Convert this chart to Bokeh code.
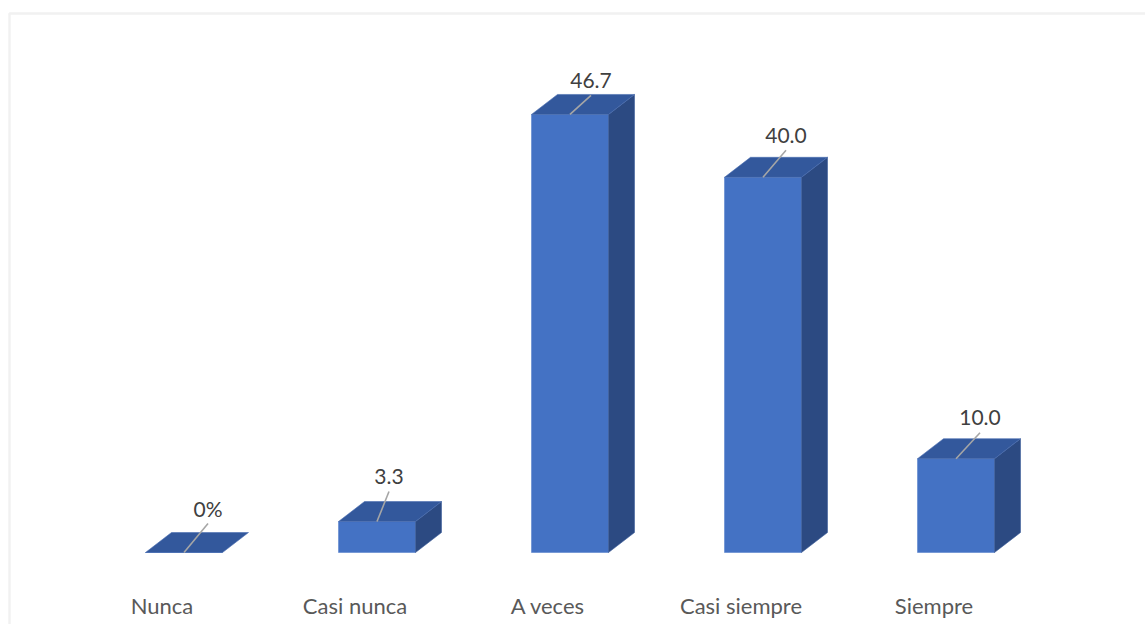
from bokeh.plotting import figure
from bokeh.models import Range1d, ColumnDataSource, BoxAnnotation
from bokeh.core.properties import value
from bokeh.embed import file_html
from bokeh.resources import INLINE

# ---- data ----
categories = ["Nunca", "Casi nunca", "A veces", "Casi siempre", "Siempre"]
values = [0.0, 3.3, 46.7, 40.0, 10.0]
value_labels = ["0%", "3.3", "46.7", "40.0", "10.0"]

# ---- layout / style ----
W, H = 1145, 624
PX_X = 193.0          # pixels per category step
PX_Y = 9.38           # pixels per value unit
X0_PX = 183.5         # pixel of first category centre
BASE_PX = 552.0       # pixel row of value 0

x_start = -X0_PX / PX_X
x_end = x_start + W / PX_X
y_end = BASE_PX / PX_Y
y_start = -(H - BASE_PX) / PX_Y

def px_x(d):
    return d / PX_X

def px_y(d):
    return d / PX_Y

half_w = px_x(38.5)
ddx = px_x(26)
ddy = px_y(20)

FRONT = "#4472C4"
TOP = "#33589C"
SIDE = "#2C4A82"

# leader line offsets (px) per bar
lead_dx = [24, 12, 21, 23, 24]
lead_dy = [29, 30, 19, 27, 26]

p = figure(width=W, height=H, output_backend="svg", toolbar_location=None,
           x_range=Range1d(x_start, x_end), y_range=Range1d(y_start, y_end),
           min_border=0, min_border_left=0, min_border_right=0,
           min_border_top=0, min_border_bottom=0)
p.axis.visible = False
p.grid.visible = False
p.outline_line_color = None
p.background_fill_color = "white"
p.border_fill_color = "white"

# chart border (left & top visible)
p.add_layout(BoxAnnotation(left=x_start + px_x(9), top=y_end - px_y(13),
                           right=x_end + 1, bottom=y_start - 1,
                           fill_alpha=0, line_color="#D0D0D0", line_width=2.5))

xs = list(range(len(categories)))

# front faces
src = ColumnDataSource(dict(
    left=[i - half_w for i in xs], right=[i + half_w for i in xs],
    bottom=[0] * len(xs), top=values))
p.quad(left="left", right="right", bottom="bottom", top="top", source=src,
       fill_color=FRONT, line_color="#5B84CC", line_width=0.6)

# side faces
side_x, side_y = [], []
for i, v in zip(xs, values):
    if v > 0:
        side_x.append([i + half_w, i + half_w + ddx, i + half_w + ddx, i + half_w])
        side_y.append([0, ddy, v + ddy, v])
p.patches(side_x, side_y, fill_color=SIDE, line_color="#3D5E9A", line_width=0.6)

# top faces
top_x, top_y = [], []
for i, v in zip(xs, values):
    top_x.append([i - half_w, i + half_w, i + half_w + ddx, i - half_w + ddx])
    top_y.append([v, v, v + ddy, v + ddy])
p.patches(top_x, top_y, fill_color=TOP, line_color="#4A6DB0", line_width=0.6)

# leader lines and value labels
x0s = xs
y0s = values
x1s = [i + px_x(dx) for i, dx in zip(xs, lead_dx)]
y1s = [v + px_y(dy) for v, dy in zip(values, lead_dy)]
p.segment(x0=x0s, y0=y0s, x1=x1s, y1=y1s, line_color="#A6A6A6", line_width=1.6)
p.text(x=x1s, y=[y + px_y(15) for y in y1s], text=value_labels,
       text_font=value("Lato"), text_font_size="21px", text_color="#404040",
       text_align="center", text_baseline="alphabetic")

# category labels
p.text(x=[i - px_x(22) for i in xs], y=[-px_y(53)] * len(xs), text=categories,
       text_font=value("Lato"), text_font_size="22px", text_color="#595959",
       text_align="center", text_baseline="alphabetic")

open("out.html", "w").write(file_html(p, INLINE))
